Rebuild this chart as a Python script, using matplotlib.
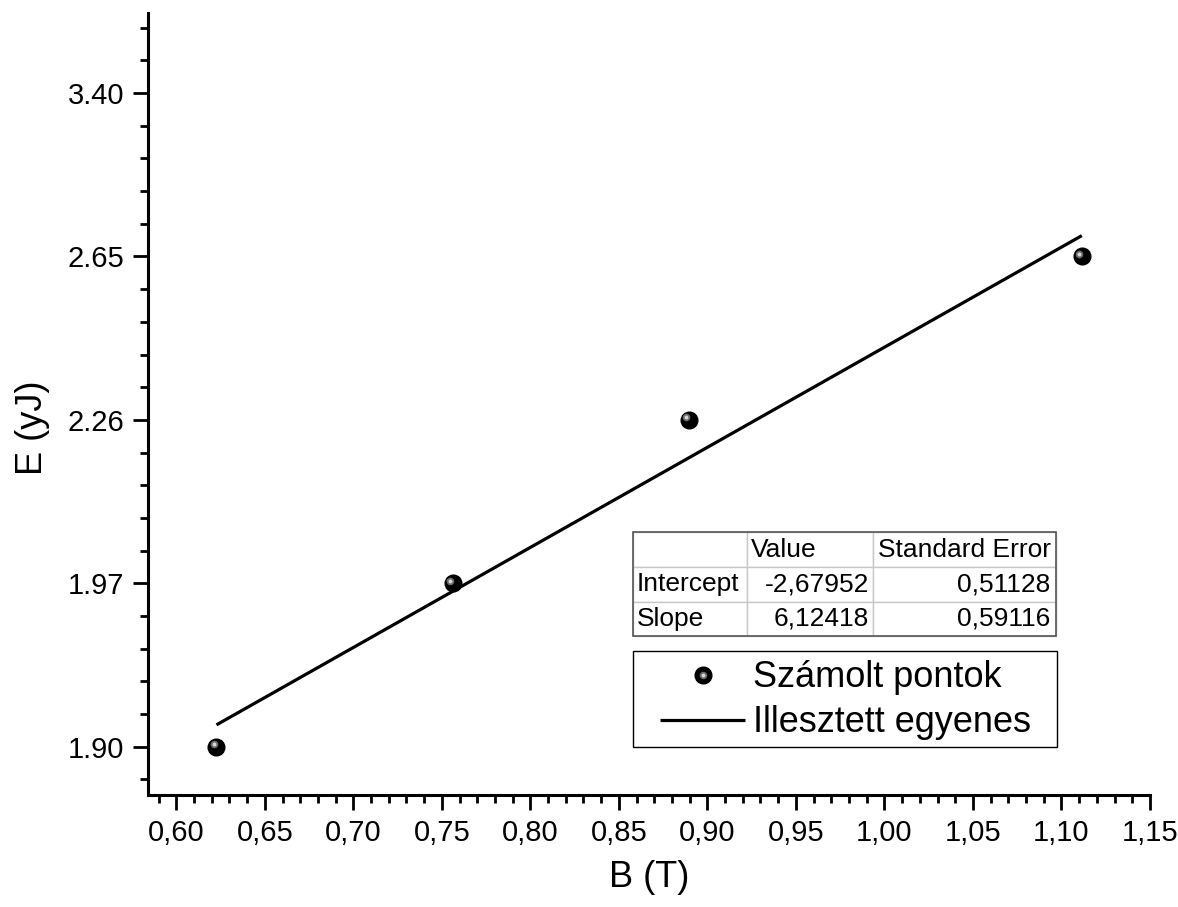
import matplotlib
matplotlib.use('Agg')
import matplotlib.pyplot as plt
import matplotlib.transforms as mtransforms
from matplotlib.ticker import MultipleLocator, FixedLocator
from matplotlib.patches import Rectangle
import numpy as np

plt.rcParams['font.family'] = ['Liberation Sans', 'DejaVu Sans']

# mért pontok (B in T, y index of the E tick)
B = [0.6227, 0.7563, 0.8895, 1.1115]
y_pts = [1, 2, 3, 4]
y_ticks = [1, 2, 3, 4, 5]
y_ticklabels = ['1.90', '1.97', '2.26', '2.65', '3.40']
x_ticks = [0.60, 0.65, 0.70, 0.75, 0.80, 0.85, 0.90, 0.95, 1.00, 1.05, 1.10, 1.15]

intercept = -2.67952
slope = 6.12418
table_rows = [['', 'Value', 'Standard Error'],
              ['Intercept', '-2,67952', '0,51128'],
              ['Slope', '6,12418', '0,59116']]

fig = plt.figure(figsize=(11.78, 9.07), dpi=100)
ax = fig.add_axes([0.1256, 0.1235, 0.8506, 0.8622])

# illesztett egyenes
xl = np.array([B[0], B[-1]])
line, = ax.plot(xl, intercept + slope * xl, color='black', lw=2.3, solid_capstyle='butt')

# shaded ball markers
base, = ax.plot(B, y_pts, 'o', color='black', ms=12, ls='none', zorder=3)
off = mtransforms.offset_copy(ax.transData, fig=fig, x=-1.8, y=1.8, units='points')
hl1, = ax.plot(B, y_pts, 'o', color='#6a6a6a', ms=5.5, ls='none', transform=off, zorder=4, mew=0)
hl2, = ax.plot(B, y_pts, 'o', color='#d8d8d8', ms=2.8, ls='none', transform=off, zorder=5, mew=0)

ax.set_xlim(0.584, 1.15)
ax.set_ylim(0.705, 5.49)

ax.xaxis.set_major_locator(FixedLocator(x_ticks))
ax.set_xticklabels([('%.2f' % v).replace('.', ',') for v in x_ticks])
ax.xaxis.set_minor_locator(MultipleLocator(0.01))
ax.yaxis.set_major_locator(FixedLocator(y_ticks))
ax.set_yticklabels(y_ticklabels)
ax.yaxis.set_minor_locator(MultipleLocator(0.2))

for s in ['top', 'right']:
    ax.spines[s].set_visible(False)
for s in ['left', 'bottom']:
    ax.spines[s].set_linewidth(2.2)

ax.tick_params(which='major', direction='out', length=11, width=2.0, labelsize=21, pad=6)
ax.tick_params(which='minor', direction='out', length=6, width=2.0)

ax.set_xlabel('B (T)', fontsize=26, labelpad=10)
ax.set_ylabel('E (yJ)', fontsize=26)
ax.yaxis.set_label_coords(-0.098, 0.47)

# fit eredmény táblázat
tx0, ty0, tw, th = 0.484, 0.203, 0.422, 0.133
tab = ax.table(cellText=table_rows, bbox=[tx0, ty0, tw, th],
               colWidths=[114, 126, 183], cellLoc='left')
tab.auto_set_font_size(False)
for (r, c), cell in tab.get_celld().items():
    cell.set_edgecolor('#c8c8c8')
    cell.set_linewidth(1.0)
    cell.get_text().set_fontsize(19)
    cell.PAD = 0.03
    if r > 0 and c > 0:
        cell.get_text().set_ha('right')
        cell._loc = 'right'
ax.add_patch(Rectangle((tx0, ty0), tw, th, transform=ax.transAxes, fill=False,
                       edgecolor='#555555', lw=1.2, zorder=10, clip_on=False))

# legend box
ax.add_patch(Rectangle((0.484, 0.061), 0.423, 0.123, transform=ax.transAxes, fill=False,
                       edgecolor='black', lw=1.0, zorder=10, clip_on=False))
leg = ax.legend([(base, hl1, hl2), line], ['Számolt pontok', 'Illesztett egyenes'],
                loc='center left', bbox_to_anchor=(0.5115, 0.121),
                fontsize=26, frameon=False,
                handlelength=2.35, handletextpad=0.22, borderpad=0, labelspacing=0.28,
                borderaxespad=0)

fig.savefig('out.png', dpi=100)
